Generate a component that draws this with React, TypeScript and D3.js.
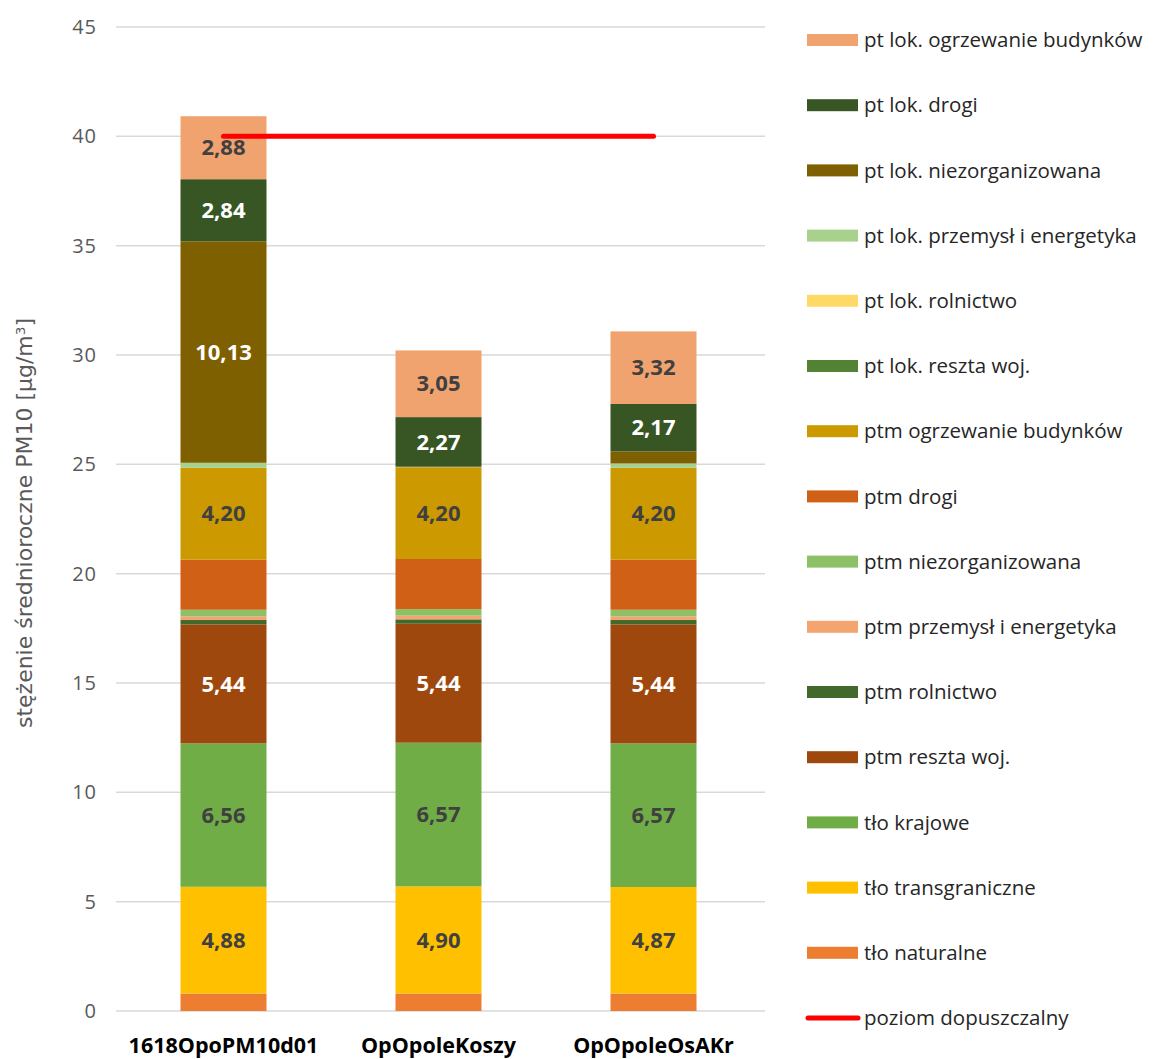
import React from "react";
import * as d3 from "d3";

const categories = ["1618OpoPM10d01", "OpOpoleKoszy", "OpOpoleOsAKr"];

// stacking order bottom -> top
const seriesNames = [
  "tło naturalne",
  "tło transgraniczne",
  "tło krajowe",
  "ptm reszta woj.",
  "ptm rolnictwo",
  "ptm przemysł i energetyka",
  "ptm niezorganizowana",
  "ptm drogi",
  "ptm ogrzewanie budynków",
  "pt lok. reszta woj.",
  "pt lok. rolnictwo",
  "pt lok. przemysł i energetyka",
  "pt lok. niezorganizowana",
  "pt lok. drogi",
  "pt lok. ogrzewanie budynków",
];

const seriesColors = [
  "#ED7D31",
  "#FFC000",
  "#70AD47",
  "#9E480E",
  "#43682B",
  "#F4A46F",
  "#8CC168",
  "#D06015",
  "#CC9900",
  "#548235",
  "#FFD966",
  "#A9D18E",
  "#7F6000",
  "#375623",
  "#F1A36F",
];

const tloNaturalne = [0.8, 0.8, 0.8];
const tloTransgraniczne = [4.88, 4.9, 4.87];
const tloKrajowe = [6.56, 6.57, 6.57];
const ptmResztaWoj = [5.44, 5.44, 5.44];
const ptmRolnictwo = [0.2, 0.2, 0.2];
const ptmPrzemysl = [0.17, 0.17, 0.17];
const ptmNiezorg = [0.3, 0.3, 0.3];
const ptmDrogi = [2.29, 2.29, 2.29];
const ptmOgrzewanie = [4.2, 4.2, 4.2];
const ptLokResztaWoj = [0.0, 0.0, 0.0];
const ptLokRolnictwo = [0.0, 0.0, 0.0];
const ptLokPrzemysl = [0.23, 0.02, 0.2];
const ptLokNiezorg = [10.13, 0.0, 0.55];
const ptLokDrogi = [2.84, 2.27, 2.17];
const ptLokOgrzewanie = [2.88, 3.05, 3.32];

const seriesValues = [
  tloNaturalne,
  tloTransgraniczne,
  tloKrajowe,
  ptmResztaWoj,
  ptmRolnictwo,
  ptmPrzemysl,
  ptmNiezorg,
  ptmDrogi,
  ptmOgrzewanie,
  ptLokResztaWoj,
  ptLokRolnictwo,
  ptLokPrzemysl,
  ptLokNiezorg,
  ptLokDrogi,
  ptLokOgrzewanie,
];

// which series show labels, and label color
const labelColors: (string | null)[] = [
  null,
  "#404040",
  "#404040",
  "#FFFFFF",
  null,
  null,
  null,
  null,
  "#404040",
  null,
  null,
  null,
  "#FFFFFF",
  "#FFFFFF",
  "#404040",
];

const limitValue = 40;
const limitName = "poziom dopuszczalny";
const yTicks = [0, 5, 10, 15, 20, 25, 30, 35, 40, 45];

const FONT = "'Open Sans', 'Noto Sans', sans-serif";

export default function App() {
  const width = 1154;
  const height = 1059;
  const y = d3.scaleLinear().domain([0, 45]).range([1011, 27]);
  const x = d3
    .scaleBand<string>()
    .domain(categories)
    .range([116, 761])
    .paddingInner(0.6)
    .paddingOuter(0.3);

  const rows = categories.map((c, i) => {
    const r: Record<string, number | string> = { cat: c };
    seriesNames.forEach((s, k) => (r[s] = seriesValues[k][i]));
    return r;
  });
  const stack = d3.stack<Record<string, number | string>>().keys(seriesNames);
  const stacked = stack(rows as any);

  const fmt = (v: number) => v.toFixed(2).replace(".", ",");

  const legendItems = [...seriesNames.map((s, i) => ({ name: s, color: seriesColors[i], line: false }))].reverse();
  legendItems.push({ name: limitName, color: "#FF0000", line: true });

  return (
    <svg width={width} height={height} style={{ position: "absolute", left: 0, top: 0, background: "#fff" }}>
      {/* gridlines */}
      {yTicks.map((t) => (
        <line key={t} x1={116} x2={765} y1={y(t)} y2={y(t)} stroke="#D9D9D9" strokeWidth={1.5} />
      ))}
      {/* y ticks */}
      {yTicks.map((t) => (
        <text
          key={"t" + t}
          x={97}
          y={y(t)}
          dy="0.35em"
          textAnchor="end"
          fontFamily={FONT}
          fontSize={20}
          letterSpacing={1}
          fill="#595959"
        >
          {t}
        </text>
      ))}
      {/* y title */}
      <text
        transform={`translate(32, ${523}) rotate(-90)`}
        textAnchor="middle"
        fontFamily="'Liberation Sans Narrow', 'DejaVu Sans Condensed', 'Noto Sans', sans-serif"
        fontSize={21}
        fill="#595959"
        textLength={410}
        lengthAdjust="spacingAndGlyphs"
      >
        stężenie średnioroczne PM10 [µg/m<tspan dy={-7} fontSize={13}>3</tspan>
        <tspan dy={7}>]</tspan>
      </text>
      {/* bars */}
      {stacked.map((layer, k) => (
        <g key={seriesNames[k]} fill={seriesColors[k]}>
          {layer.map((d, i) => {
            const h = y(d[0]) - y(d[1]);
            if (h <= 0) return null;
            return (
              <rect
                key={i}
                x={x(categories[i])}
                y={y(d[1])}
                width={x.bandwidth()}
                height={h}
              />
            );
          })}
        </g>
      ))}
      {/* labels */}
      {stacked.map((layer, k) =>
        labelColors[k]
          ? layer.map((d, i) => {
              const v = seriesValues[k][i];
              if (v < 1) return null;
              return (
                <text
                  key={k + "-" + i}
                  x={(x(categories[i]) as number) + x.bandwidth() / 2}
                  y={y((d[0] + d[1]) / 2)}
                  dy="0.35em"
                  textAnchor="middle"
                  fontFamily={FONT}
                  fontWeight="bold"
                  fontSize={22}
                  fill={labelColors[k] as string}
                >
                  {fmt(v)}
                </text>
              );
            })
          : null
      )}
      {/* limit line */}
      <line
        x1={(x(categories[0]) as number) + x.bandwidth() / 2}
        x2={(x(categories[2]) as number) + x.bandwidth() / 2}
        y1={y(limitValue)}
        y2={y(limitValue)}
        stroke="#FF0000"
        strokeWidth={5}
        strokeLinecap="round"
      />
      {/* x labels */}
      {categories.map((c) => (
        <text
          key={c}
          x={(x(c) as number) + x.bandwidth() / 2}
          y={1045}
          dy="0.35em"
          textAnchor="middle"
          fontFamily={FONT}
          fontWeight="bold"
          fontSize={21.5}
          fill="#000"
        >
          {c}
        </text>
      ))}
      {/* legend */}
      {legendItems.map((it, i) => {
        const cy = 40 + i * 65.2;
        return (
          <g key={it.name}>
            {it.line ? (
              <line x1={808} x2={858} y1={cy} y2={cy} stroke={it.color} strokeWidth={5} strokeLinecap="round" />
            ) : (
              <rect x={807} y={cy - 6} width={51} height={12} fill={it.color} />
            )}
            <text x={864} y={cy} dy="0.35em" fontFamily={FONT} fontSize={20.5} fill="#262626">
              {it.name}
            </text>
          </g>
        );
      })}
    </svg>
  );
}
